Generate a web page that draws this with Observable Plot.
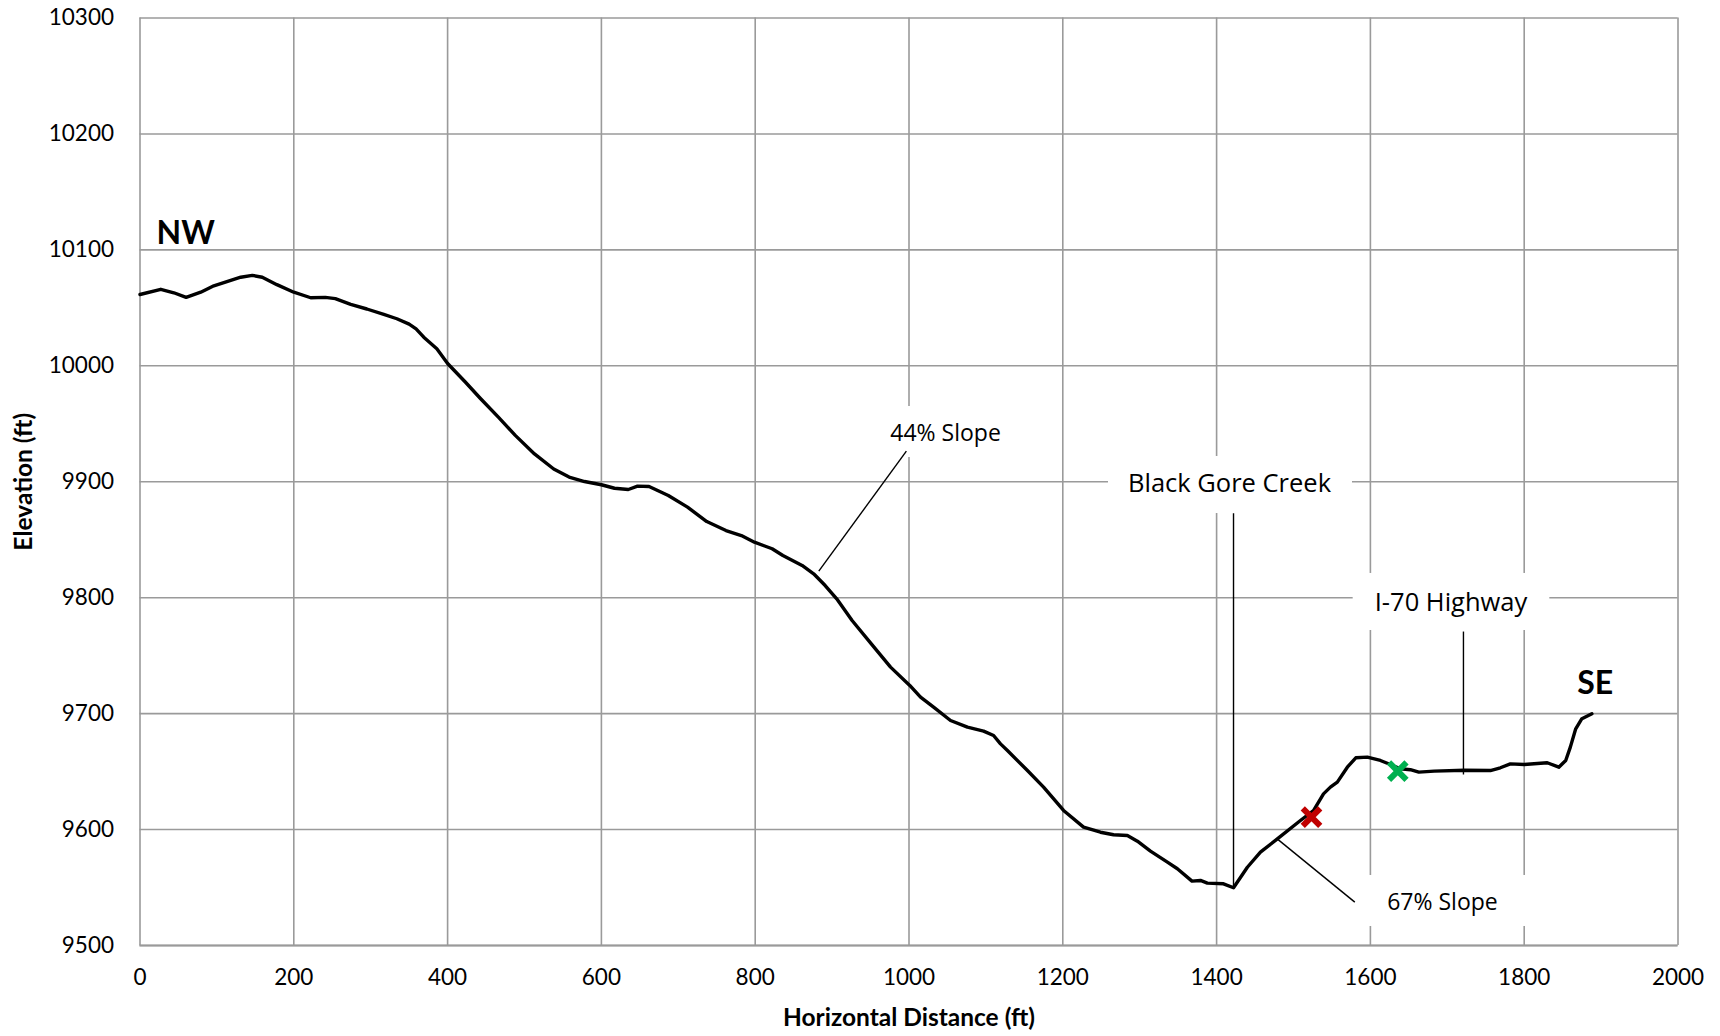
<!DOCTYPE html>
<html><head><meta charset="utf-8">
<script src="https://cdn.jsdelivr.net/npm/d3@7"></script>
<script src="https://cdn.jsdelivr.net/npm/@observablehq/plot@0.6"></script>
<style>html,body{margin:0;padding:0;background:#fff;overflow:hidden}</style>
</head><body><div id="chart"></div>
<script>
// Elevation profile (ft)
const distance = [0,27,44,60,79,96,113,131,146,159,178,200,222,241,254,274,295,317,334,350,359,369,386,400,423,443,466,488,513,538,558,578,600,617,635,647,662,687,712,737,762,782,799,822,836,861,876,891,906,926,951,976,1001,1015,1032,1054,1076,1097,1110,1119,1128,1154,1175,1201,1227,1249,1266,1284,1297,1314,1336,1349,1368,1379,1388,1409,1422,1440,1457,1479,1509,1526,1539,1548,1557,1570,1581,1596,1613,1626,1639,1652,1663,1683,1722,1756,1769,1782,1800,1830,1845,1854,1860,1867,1875,1888];
const elevation = [10061.5,10066,10063,10059,10063.5,10069,10072.7,10076.4,10078,10076.4,10070,10063.5,10058.7,10059,10058,10053,10049,10044.3,10040.6,10036,10031.9,10024.7,10014.7,10002,9986,9971.6,9955.7,9940,9924,9911,9904,9900.2,9897.4,9894.4,9893.3,9896.2,9895.9,9888.2,9878.1,9865.7,9857.9,9853.6,9847.9,9842.2,9836.4,9827.8,9820.6,9810.5,9799,9780.3,9760.2,9740.1,9724.3,9714.2,9705.6,9694.1,9688.3,9684.9,9681.1,9673.9,9668.2,9650.9,9636.6,9616.5,9602.1,9597.7,9595.5,9594.9,9590,9581.4,9571.9,9566.2,9555.5,9556.1,9553.8,9553.2,9549.8,9567.5,9580.5,9592,9607.8,9616.4,9630.8,9636.6,9640.9,9653.8,9661.9,9662.5,9659.6,9656.1,9652.4,9651.6,9649.5,9650.4,9651.2,9650.9,9653.3,9656.7,9656.1,9657.6,9653.8,9659.6,9671.1,9686.9,9695.6,9699.9];

// Axis ticks
const xTicks = [0,200,400,600,800,1000,1200,1400,1600,1800,2000];
const yTicks = [9500,9600,9700,9800,9900,10000,10100,10200,10300];

// End labels
const endLabels = ["NW","SE"];
const endLabelX = [21.5,1869];
const endLabelY = [10103.8,9716];

// Callouts
const calloutText = ["44% Slope","Black Gore Creek","I-70 Highway","67% Slope"];
const calloutSize = [23,25.5,25.5,23];
const calloutX = [1047.5,1416.8,1704.8,1693.7];
const calloutY = [9941.6,9898.5,9795.4,9537.1];
const calloutBoxX1 = [950,1259.4,1577.6,1593.6];
const calloutBoxX2 = [1145,1576.7,1833.3,1808.2];
const calloutBoxY1 = [9920.9,9872.6,9771.7,9516.4];
const calloutBoxY2 = [9964.9,9921.8,9820.9,9560.4];
const leaderX1 = [996.6,1422,1721,1478.8];
const leaderY1 = [9926.4,9872.9,9770.8,9592];
const leaderX2 = [882.7,1422,1721,1579.7];
const leaderY2 = [9822.9,9550.3,9647.5,9537.4];

// Markers
const markerX = [1523.4,1635.6];
const markerY = [9610.7,9650.4];
const markerColor = ["#C00000","#00B050"];

const profile = distance.map((d,i)=>({distance:d, elevation:elevation[i]}));
const callouts = calloutText.map((t,i)=>({text:t,size:calloutSize[i],x:calloutX[i],y:calloutY[i],bx1:calloutBoxX1[i],bx2:calloutBoxX2[i],by1:calloutBoxY1[i],by2:calloutBoxY2[i],lx1:leaderX1[i],ly1:leaderY1[i],lx2:leaderX2[i],ly2:leaderY2[i]}));
const ends = endLabels.map((t,i)=>({text:t,x:endLabelX[i],y:endLabelY[i]}));
const markers = markerX.map((x,i)=>({x,y:markerY[i],color:markerColor[i]}));

const axisFont = "Lato, Carlito, 'Liberation Sans', sans-serif";
const noteFont = "'Open Sans', 'Noto Sans', sans-serif";
const gridColor = "#9a9a9a";

const chart = Plot.plot({
  width: 1720, height: 1036,
  marginLeft: 139.5, marginRight: 42.5, marginTop: 17.5, marginBottom: 91,
  x: {domain: [0,2000]},
  y: {domain: [9500,10300]},
  style: {fontFamily: axisFont, fontSize: "22px", color: "#000", background: "#fff"},
  marks: [
    Plot.gridX(xTicks, {stroke: gridColor, strokeOpacity: 1, strokeWidth: 1.6}),
    Plot.gridY(yTicks, {stroke: gridColor, strokeOpacity: 1, strokeWidth: 1.6}),
    Plot.ruleY([9500], {stroke: gridColor, strokeWidth: 2}),
    Plot.axisX(xTicks, {tickSize: 0, tickPadding: 24, label: null, tickFormat: d => String(d), fontSize: 22.5, fill: "#000"}),
    Plot.axisY(yTicks, {tickSize: 0, tickPadding: 26, label: null, tickFormat: d => String(d), fontSize: 22.5, fill: "#000"}),
    Plot.rect(callouts, {x1: "bx1", x2: "bx2", y1: "by1", y2: "by2", fill: "#fff"}),
    Plot.link(callouts, {x1: "lx1", y1: "ly1", x2: "lx2", y2: "ly2", stroke: "#000", strokeWidth: 1.4}),
    Plot.line(profile, {x: "distance", y: "elevation", stroke: "#000", strokeWidth: 3.4, strokeLinejoin: "round", strokeLinecap: "round"}),
    ...callouts.map(c => Plot.text([c], {x: "x", y: "y", text: "text", fontFamily: noteFont, fontSize: c.size, fill: "#000", textAnchor: "middle", lineAnchor: "middle"})),
    Plot.text(ends, {x: "x", y: "y", text: "text", fontFamily: axisFont, fontSize: 32, fontWeight: "bold", fill: "#000", textAnchor: "start", lineAnchor: "bottom", dy: -1}),
    Plot.dot(markers, {x: "x", y: "y", symbol: "times", r: 8, stroke: "color", strokeWidth: 6}),
    Plot.text(["Horizontal Distance (ft)"], {frameAnchor: "bottom", dy: 80, fontWeight: "bold", fontSize: 24.5, fill: "#000", textAnchor: "middle"}),
    Plot.text(["Elevation (ft)"], {frameAnchor: "left", rotate: -90, dx: -115.5, fontWeight: "bold", fontSize: 24.5, fill: "#000", textAnchor: "middle"})
  ]
});
document.getElementById("chart").append(chart);
</script>
</body></html>
